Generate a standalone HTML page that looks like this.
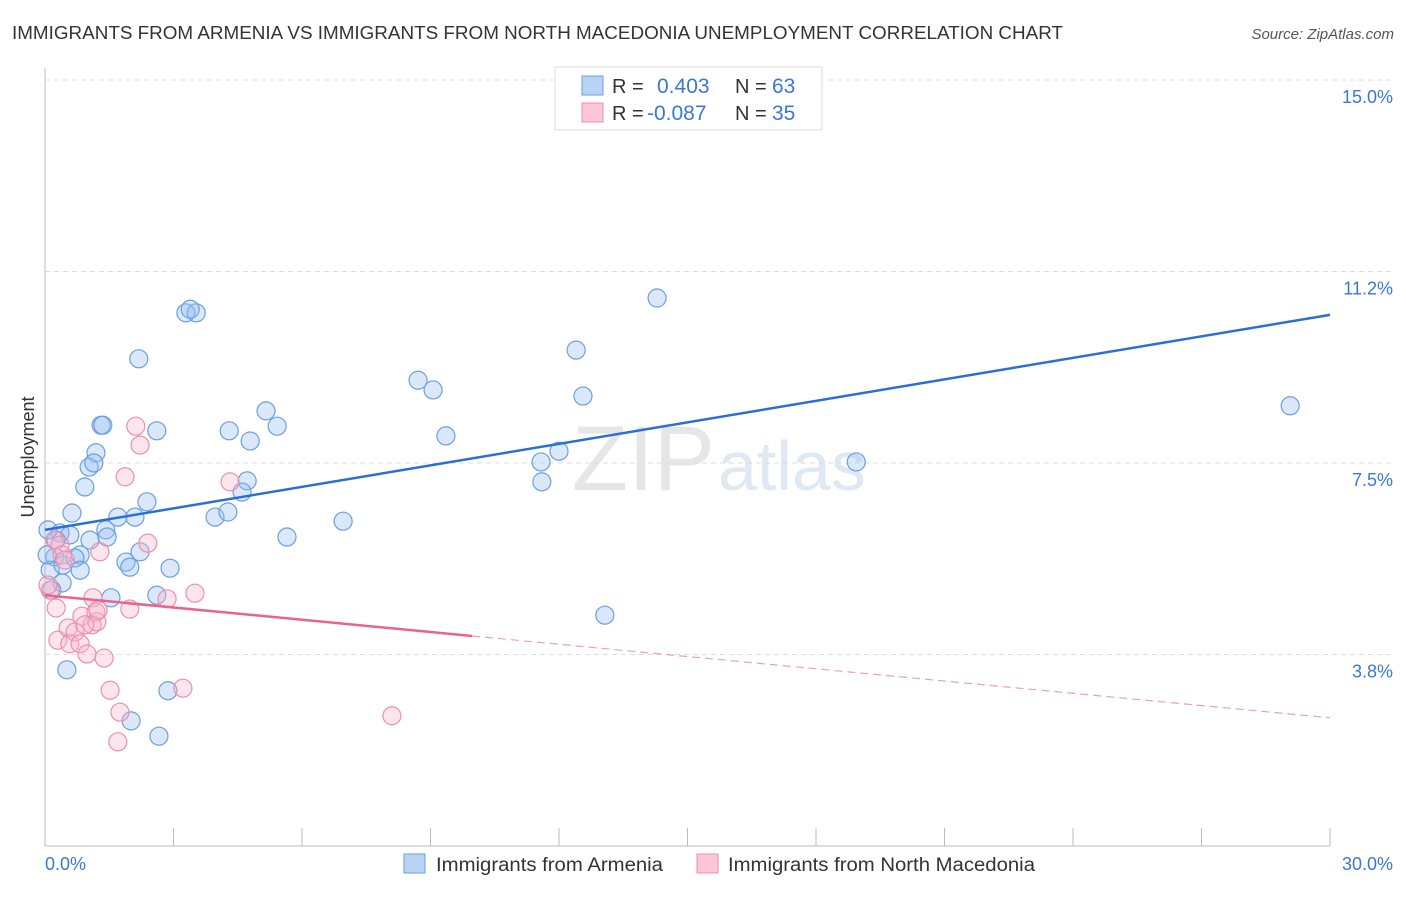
<!DOCTYPE html>
<html><head><meta charset="utf-8">
<style>
body{margin:0;background:#fff;font-family:"Liberation Sans",sans-serif;}
svg text{font-family:"Liberation Sans",sans-serif;}
</style></head>
<body>
<svg id="chart" width="1406" height="892" xmlns="http://www.w3.org/2000/svg">
<text x="12" y="39" font-size="18" fill="#333" textLength="1051" lengthAdjust="spacingAndGlyphs">IMMIGRANTS FROM ARMENIA VS IMMIGRANTS FROM NORTH MACEDONIA UNEMPLOYMENT CORRELATION CHART</text>
<text x="1394" y="39" font-size="15" fill="#555" text-anchor="end" font-style="italic">Source: ZipAtlas.com</text>
<text x="715" y="490" font-size="92" fill="#e6e6e6" text-anchor="end" font-family="Liberation Serif">ZIP</text>
<text x="718" y="490" font-size="70" fill="#dfe8f5">atlas</text>
<g id="grid"></g>
<g id="pts"></g>
<g id="lines"></g>
<text transform="translate(34,457) rotate(-90)" font-size="18" fill="#333" text-anchor="middle">Unemployment</text>
<g>
<rect x="555" y="67" width="267" height="63" fill="#fff" stroke="#ddd"/>
<rect x="582" y="76" width="21" height="19" fill="#b8d3f5" stroke="#6a9fe0"/>
<rect x="582" y="103" width="21" height="19" fill="#fbc6d6" stroke="#ec8faf"/>
<text x="612" y="93" font-size="20" fill="#333">R = </text><text x="657" y="93" font-size="21" fill="#3a78d4">0.403</text>
<text x="735" y="93" font-size="20" fill="#333">N = </text><text x="772" y="93" font-size="21" fill="#3a78d4">63</text>
<text x="612" y="120" font-size="20" fill="#333">R = </text><text x="647" y="120" font-size="21" fill="#3a78d4">-0.087</text>
<text x="735" y="120" font-size="20" fill="#333">N = </text><text x="772" y="120" font-size="21" fill="#3a78d4">35</text>
</g>
<g>
<rect x="404" y="854" width="21" height="19" fill="#b8d3f5" stroke="#6a9fe0"/>
<text x="436" y="871" font-size="19" fill="#333" textLength="227" lengthAdjust="spacingAndGlyphs">Immigrants from Armenia</text>
<rect x="697" y="854" width="21" height="19" fill="#fbc6d6" stroke="#ec8faf"/>
<text x="728" y="871" font-size="19" fill="#333" textLength="307" lengthAdjust="spacingAndGlyphs">Immigrants from North Macedonia</text>
</g>
<text x="45" y="870" font-size="18" fill="#3a78d4">0.0%</text>
<text x="1393" y="870" font-size="18" fill="#3a78d4" text-anchor="end">30.0%</text>
</svg>
<script>
const blueX=[.23,.12,.35,.63,.58,.93,1.03,1.19,1.14,1.31,1.35,1.05,.82,.42,.70,.82,.40,.16,.51,1.54,1.42,1.45,1.70,1.89,1.98,2.10,2.22,2.38,2.61,2.19,2.92,2.61,2.87,2.01,2.66,3.29,3.53,3.39,3.97,4.27,4.30,4.79,4.72,4.60,5.16,5.42,5.65,6.96,8.71,9.06,9.36,11.58,11.60,12.00,12.40,12.56,13.07,14.29,18.94,29.07,.26,.05,.07];
const blueY=[5.66,5.40,6.13,6.52,6.09,7.03,7.42,7.70,7.50,8.24,8.24,5.99,5.70,5.50,5.64,5.40,5.15,5.01,3.45,4.86,6.19,6.05,6.44,5.56,5.46,6.44,5.76,6.74,8.13,9.54,5.44,4.91,3.04,2.45,2.15,10.44,10.44,10.51,6.44,6.54,8.13,7.93,7.15,6.93,8.52,8.22,6.05,6.36,9.12,8.93,8.03,7.52,7.13,7.73,9.71,8.81,4.52,10.73,7.52,8.62,5.99,5.70,6.19];
const pinkX=[.12,.23,.35,.40,1.28,.26,.30,.54,.58,.70,.86,.82,.98,1.12,1.19,1.10,1.21,1.38,1.98,2.12,2.22,1.87,2.40,1.52,1.75,1.70,2.85,3.50,3.22,4.32,8.10,.07,.93,1.24,.47];
const pinkY=[5.01,5.99,5.89,5.70,5.76,4.66,4.03,4.27,3.96,4.19,4.50,3.96,3.76,4.86,4.58,4.33,4.39,3.68,4.64,8.22,7.85,7.23,5.93,3.05,2.62,2.04,4.84,4.95,3.09,7.13,2.55,5.11,4.33,4.62,5.60];
const yTicks=[3.75,7.5,11.25,15];
const yTickLabels=["3.8%","7.5%","11.2%","15.0%"];
const xTicks=[0,3,6,9,12,15,18,21,24,27,30];
const blueTrend=[6.19,10.40];
const pinkTrend=[4.91,2.51];
const pinkSolidEnd=9.97;

const X=v=>45+v*(1285/30);
const Y=v=>846-v*51.07;
const NS="http://www.w3.org/2000/svg";
function mk(tag,attrs,parent){const e=document.createElementNS(NS,tag);for(const k in attrs)e.setAttribute(k,attrs[k]);parent.appendChild(e);return e;}
const grid=document.getElementById('grid');
const ax=mk('line',{x1:45,y1:68,x2:45,y2:846,stroke:'#bbb','stroke-width':1},grid);


const bx=mk('line',{x1:45,y1:846,x2:1330,y2:846,stroke:'#bbb','stroke-width':1},grid);


yTicks.forEach((t,i)=>{
  const g=mk('line',{x1:45,y1:Y(t),x2:1393,y2:Y(t),stroke:'#ddd','stroke-dasharray':'5,4'},grid);
  
  
  const tx=mk('text',{x:1393,y:Y(t)+23,'font-size':18,fill:'#3a78d4','text-anchor':'end'},grid);
  tx.textContent=yTickLabels[i];
  
  
});
xTicks.forEach(t=>{
  const l=mk('line',{x1:X(t),y1:828,x2:X(t),y2:846,stroke:'#bbb'},grid);
  
  
});
const pts=document.getElementById('pts');
blueX.forEach((x,i)=>{
  const c=mk('circle',{cx:X(x),cy:Y(blueY[i]),r:9,fill:'rgba(150,190,240,0.35)',stroke:'#6a9fe0','stroke-width':1.2},pts);
  
  
});
pinkX.forEach((x,i)=>{
  const c=mk('circle',{cx:X(x),cy:Y(pinkY[i]),r:9,fill:'rgba(248,180,200,0.35)',stroke:'#ec8faf','stroke-width':1.2},pts);
  
  
});
const lines=document.getElementById('lines');
const bl=mk('line',{x1:X(0),y1:Y(blueTrend[0]),x2:X(30),y2:Y(blueTrend[1]),stroke:'#2a6fd6','stroke-width':2.5},lines);


const pAt=x=>pinkTrend[0]+(pinkTrend[1]-pinkTrend[0])*x/30;
const pl=mk('line',{x1:X(0),y1:Y(pinkTrend[0]),x2:X(pinkSolidEnd),y2:Y(pAt(pinkSolidEnd)),stroke:'#e8638f','stroke-width':2.5},lines);


const pd=mk('line',{x1:X(pinkSolidEnd),y1:Y(pAt(pinkSolidEnd)),x2:X(30),y2:Y(pinkTrend[1]),stroke:'#e8a0b8','stroke-width':1.2,'stroke-dasharray':'8,5'},lines);


</script>
</body></html>
